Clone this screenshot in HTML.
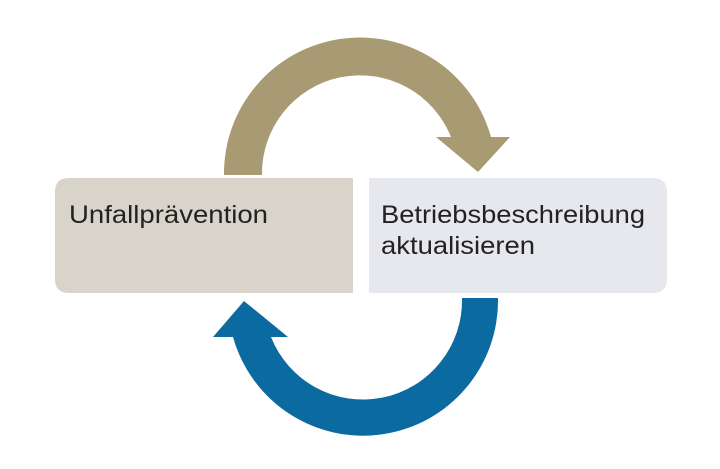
<!DOCTYPE html>
<html><head><meta charset="utf-8"><style>
html,body{margin:0;padding:0;background:#fff;width:720px;height:469px;overflow:hidden}
</style></head><body>
<svg width="720" height="469" viewBox="0 0 720 469" xmlns="http://www.w3.org/2000/svg">
<path d="M224,175 A136,136 0 0 1 491,137 L451,137 A98,98 0 0 0 262,175 Z" fill="#a89a72"/>
<polygon points="436,137 510,137 478,172" fill="#a89a72"/>
<path d="M498,298 A135,135 0 0 1 233,337 L271,337 A99,99 0 0 0 462,298 Z" fill="#0b6a9f"/>
<polygon points="213,337 288,337 244,301" fill="#0b6a9f"/>
<path d="M353,178 L69,178 Q55,178 55,192 L55,279 Q55,293 69,293 L353,293 Z" fill="#d9d4c9"/>
<path d="M369,178 L653,178 Q667,178 667,192 L667,279 Q667,293 653,293 L369,293 Z" fill="#e6e8ed"/>
<g font-family="'Liberation Sans', sans-serif" font-size="25" fill="#222">
<text x="69" y="223" textLength="199" lengthAdjust="spacingAndGlyphs">Unfallprävention</text>
<text x="381" y="223" textLength="264" lengthAdjust="spacingAndGlyphs">Betriebsbeschreibung</text>
<text x="381" y="254" textLength="154" lengthAdjust="spacingAndGlyphs">aktualisieren</text>
</g>
</svg>
</body></html>
